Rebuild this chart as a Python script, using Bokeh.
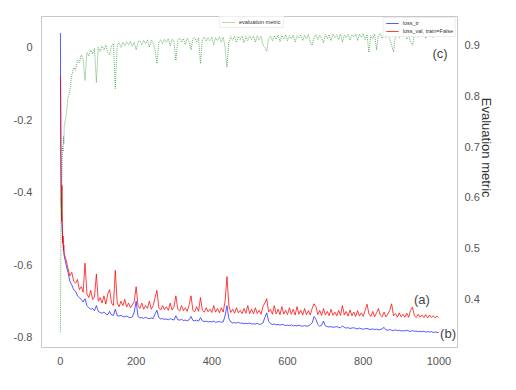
from bokeh.plotting import figure
from bokeh.models import (Range1d, LinearAxis, FixedTicker, Legend, LegendItem,
                          Label, CustomJSTickFormatter, ColumnDataSource)
from bokeh.embed import file_html
from bokeh.resources import INLINE

epochs = list(range(10)) + list(range(10, 1000, 5)) + [999]

loss_tr = [
    0.040, -0.300, -0.400, -0.450, -0.480, -0.505, -0.525, -0.540, -0.555, -0.565,
    -0.575, -0.600, -0.620, -0.645, -0.655, -0.668, -0.672, -0.685, -0.690, -0.695,
    -0.702, -0.693, -0.712, -0.718, -0.722, -0.720, -0.726, -0.712, -0.728, -0.731,
    -0.733, -0.730, -0.735, -0.737, -0.728, -0.738, -0.739, -0.722, -0.740, -0.741,
    -0.739, -0.742, -0.743, -0.741, -0.744, -0.745, -0.743, -0.730, -0.700, -0.742,
    -0.746, -0.745, -0.747, -0.744, -0.747, -0.748, -0.746, -0.748, -0.735, -0.725,
    -0.745, -0.749, -0.748, -0.750, -0.749, -0.751, -0.748, -0.750, -0.752, -0.740,
    -0.751, -0.752, -0.750, -0.753, -0.752, -0.754, -0.751, -0.742, -0.753, -0.754,
    -0.752, -0.755, -0.745, -0.754, -0.756, -0.755, -0.757, -0.756, -0.757, -0.755,
    -0.758, -0.757, -0.756, -0.758, -0.757, -0.740, -0.712, -0.748, -0.757, -0.760,
    -0.759, -0.760, -0.758, -0.761, -0.760, -0.762, -0.761, -0.762, -0.760, -0.763,
    -0.762, -0.763, -0.761, -0.764, -0.763, -0.760, -0.745, -0.732, -0.755, -0.762,
    -0.764, -0.763, -0.765, -0.764, -0.766, -0.764, -0.765, -0.767, -0.766, -0.767,
    -0.765, -0.768, -0.767, -0.768, -0.766, -0.768, -0.769, -0.767, -0.769, -0.768,
    -0.765, -0.760, -0.742, -0.750, -0.764, -0.769, -0.766, -0.755, -0.768, -0.770,
    -0.771, -0.770, -0.772, -0.771, -0.770, -0.772, -0.773, -0.768, -0.772, -0.774,
    -0.773, -0.775, -0.774, -0.773, -0.775, -0.776, -0.774, -0.776, -0.777, -0.776,
    -0.775, -0.777, -0.778, -0.776, -0.778, -0.777, -0.779, -0.778, -0.776, -0.772,
    -0.779, -0.780, -0.778, -0.780, -0.781, -0.779, -0.781, -0.780, -0.782, -0.781,
    -0.782, -0.780, -0.782, -0.783, -0.781, -0.783, -0.782, -0.784, -0.783, -0.784,
    -0.783, -0.785, -0.784, -0.785, -0.784, -0.786, -0.785, -0.786, -0.786,
]

loss_val = [
    -0.080, -0.200, -0.420, -0.480, -0.380, -0.500, -0.540, -0.520, -0.560, -0.545,
    -0.570, -0.585, -0.610, -0.630, -0.620, -0.645, -0.650, -0.640, -0.668, -0.660,
    -0.675, -0.595, -0.680, -0.690, -0.670, -0.695, -0.688, -0.625, -0.700, -0.690,
    -0.705, -0.685, -0.708, -0.680, -0.668, -0.705, -0.712, -0.615, -0.705, -0.715,
    -0.700, -0.712, -0.695, -0.716, -0.705, -0.718, -0.710, -0.700, -0.660, -0.712,
    -0.720, -0.705, -0.722, -0.712, -0.720, -0.700, -0.722, -0.712, -0.690, -0.670,
    -0.718, -0.724, -0.712, -0.723, -0.715, -0.725, -0.705, -0.724, -0.716, -0.685,
    -0.722, -0.727, -0.712, -0.726, -0.718, -0.728, -0.710, -0.685, -0.725, -0.729,
    -0.715, -0.728, -0.690, -0.725, -0.730, -0.718, -0.729, -0.722, -0.731, -0.712,
    -0.730, -0.720, -0.732, -0.718, -0.730, -0.700, -0.632, -0.712, -0.731, -0.722,
    -0.733, -0.718, -0.732, -0.725, -0.734, -0.720, -0.733, -0.712, -0.734, -0.722,
    -0.735, -0.718, -0.734, -0.725, -0.736, -0.715, -0.705, -0.693, -0.730, -0.722,
    -0.736, -0.712, -0.735, -0.722, -0.737, -0.715, -0.735, -0.725, -0.737, -0.718,
    -0.736, -0.722, -0.738, -0.715, -0.736, -0.725, -0.738, -0.720, -0.737, -0.726,
    -0.738, -0.720, -0.707, -0.715, -0.737, -0.725, -0.739, -0.720, -0.738, -0.728,
    -0.740, -0.722, -0.739, -0.730, -0.740, -0.725, -0.739, -0.712, -0.738, -0.728,
    -0.741, -0.724, -0.740, -0.730, -0.742, -0.726, -0.741, -0.732, -0.742, -0.725,
    -0.708, -0.735, -0.742, -0.728, -0.743, -0.732, -0.720, -0.738, -0.743, -0.730,
    -0.743, -0.735, -0.725, -0.707, -0.740, -0.734, -0.744, -0.732, -0.743, -0.736,
    -0.744, -0.733, -0.744, -0.725, -0.716, -0.740, -0.745, -0.736, -0.744, -0.738,
    -0.745, -0.737, -0.746, -0.738, -0.745, -0.740, -0.746, -0.741, -0.745,
]

eval_metric = [
    0.335, 0.480, 0.600, 0.560, 0.650, 0.680, 0.700, 0.690, 0.720, 0.705,
    0.740, 0.760, 0.795, 0.810, 0.840, 0.855, 0.850, 0.870, 0.865, 0.880,
    0.872, 0.830, 0.885, 0.878, 0.890, 0.882, 0.893, 0.826, 0.895, 0.887,
    0.898, 0.890, 0.900, 0.885, 0.880, 0.898, 0.902, 0.814, 0.900, 0.904,
    0.895, 0.905, 0.898, 0.906, 0.900, 0.907, 0.897, 0.905, 0.890, 0.906,
    0.908, 0.900, 0.909, 0.902, 0.910, 0.895, 0.909, 0.903, 0.890, 0.863,
    0.905, 0.910, 0.902, 0.911, 0.905, 0.912, 0.898, 0.911, 0.906, 0.869,
    0.910, 0.913, 0.905, 0.912, 0.900, 0.913, 0.906, 0.890, 0.912, 0.914,
    0.905, 0.913, 0.863, 0.910, 0.915, 0.907, 0.914, 0.908, 0.915, 0.900,
    0.914, 0.908, 0.916, 0.905, 0.915, 0.895, 0.856, 0.905, 0.916, 0.909,
    0.917, 0.905, 0.916, 0.910, 0.917, 0.904, 0.916, 0.908, 0.918, 0.910,
    0.917, 0.905, 0.918, 0.910, 0.917, 0.900, 0.895, 0.887, 0.912, 0.917,
    0.908, 0.918, 0.911, 0.919, 0.906, 0.918, 0.912, 0.919, 0.908, 0.918,
    0.912, 0.919, 0.905, 0.918, 0.913, 0.920, 0.908, 0.919, 0.912, 0.920,
    0.906, 0.899, 0.915, 0.920, 0.910, 0.919, 0.913, 0.904, 0.920, 0.912,
    0.920, 0.908, 0.921, 0.914, 0.920, 0.910, 0.921, 0.905, 0.920, 0.914,
    0.921, 0.909, 0.920, 0.915, 0.921, 0.908, 0.921, 0.915, 0.922, 0.910,
    0.920, 0.885, 0.918, 0.912, 0.921, 0.890, 0.918, 0.922, 0.912, 0.921,
    0.914, 0.922, 0.910, 0.900, 0.886, 0.918, 0.922, 0.913, 0.922, 0.915,
    0.922, 0.911, 0.921, 0.905, 0.899, 0.918, 0.922, 0.914, 0.923, 0.916,
    0.922, 0.912, 0.923, 0.917, 0.922, 0.914, 0.923, 0.918, 0.922,
]

x_ticks = [0, 200, 400, 600, 800, 1000]
left_ticks = [-0.8, -0.6, -0.4, -0.2, 0.0]
right_ticks = [0.4, 0.5, 0.6, 0.7, 0.8, 0.9]
right_label = "Evaluation metric"

annot_text = ["(a)", "(b)", "(c)"]
annot_x = [955, 1024, 1003]
annot_y = [-0.695, -0.789, -0.017]

FONT = "Liberation Sans"

src = ColumnDataSource(dict(epoch=epochs, tr=loss_tr, val=loss_val, ev=eval_metric))

p = figure(width=500, height=374, output_backend="svg", toolbar_location=None,
           x_range=Range1d(-50, 1049), y_range=Range1d(-0.8276, 0.0855),
           min_border_left=41, min_border_right=43, min_border_top=16,
           min_border_bottom=27)
p.extra_y_ranges = {"eval": Range1d(0.305, 0.9556)}

p.background_fill_color = "white"
p.border_fill_color = "white"
p.outline_line_color = "#c8c8c8"
p.outline_line_width = 1
p.xgrid.visible = False
p.ygrid.visible = False

r_tr = p.line("epoch", "tr", source=src, line_color="blue", line_alpha=0.65, line_width=1)
r_val = p.line("epoch", "val", source=src, line_color="red", line_alpha=0.75, line_width=1)
r_ev = p.line("epoch", "ev", source=src, y_range_name="eval", line_color="green",
              line_alpha=0.6, line_width=1, line_dash="1 1")

def style_axis(ax):
    ax.axis_line_color = None
    ax.major_tick_line_color = None
    ax.minor_tick_line_color = None
    ax.major_label_text_font = FONT
    ax.major_label_text_font_size = "11px"
    ax.major_label_text_color = "#555555"
    ax.major_label_standoff = 3

p.xaxis.ticker = FixedTicker(ticks=x_ticks)
p.yaxis.ticker = FixedTicker(ticks=left_ticks)
p.yaxis.formatter = CustomJSTickFormatter(
    code="return Math.abs(tick) < 1e-9 ? '0' : tick.toFixed(1);")
style_axis(p.xaxis[0])
style_axis(p.yaxis[0])

# trailing no-break spaces shift the centred title upward, as in the reference
rax = LinearAxis(y_range_name="eval", ticker=FixedTicker(ticks=right_ticks),
                 axis_label=right_label + "\u00a0" * 19)
style_axis(rax)
rax.major_label_standoff = 1
rax.axis_label_text_font = FONT
rax.axis_label_text_font_size = "13px"
rax.axis_label_text_font_style = "normal"
rax.axis_label_text_color = "#333333"
rax.axis_label_standoff = -4
p.add_layout(rax, "right")

def small_legend(items, loc):
    lg = Legend(items=items, location=loc)
    lg.label_text_font = FONT
    lg.label_text_font_size = "5.5px"
    lg.label_text_color = "#333333"
    lg.label_height = 6
    lg.glyph_height = 6
    lg.glyph_width = 13
    lg.label_standoff = 4
    lg.padding = 2
    lg.spacing = 2
    lg.border_line_color = "#dddddd"
    lg.border_line_width = 1
    lg.background_fill_color = "white"
    lg.background_fill_alpha = 1
    return lg

leg1 = small_legend([LegendItem(label="evaluation metric", renderers=[r_ev])], (178, 319))
leg1.margin = 0
leg2 = small_legend([LegendItem(label="loss_tr", renderers=[r_tr]),
                     LegendItem(label="loss_val, train=False", renderers=[r_val])], "top_right")
leg2.margin = 1
p.add_layout(leg1)
p.add_layout(leg2)

for t, ax_, ay_ in zip(annot_text, annot_x, annot_y):
    p.add_layout(Label(x=ax_, y=ay_, text=t, text_align="center", text_baseline="middle",
                       text_font=FONT, text_font_size="13px", text_color="#444444"))

open("out.html", "w").write(file_html(p, INLINE))
